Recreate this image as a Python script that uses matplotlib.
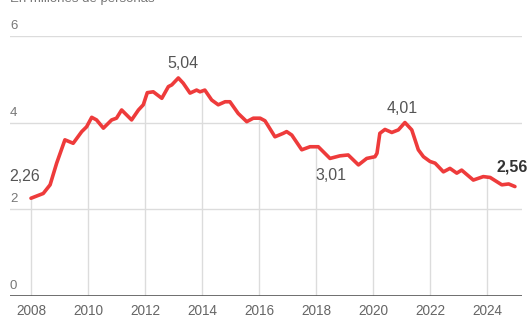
import numpy as np
import matplotlib
matplotlib.use("Agg")
import matplotlib.pyplot as plt

plt.rcParams['font.family'] = ['Liberation Sans', 'DejaVu Sans']

# millones de personas
years = [2008.0, 2008.43, 2008.67, 2008.9, 2009.19, 2009.48, 2009.78, 2009.95,
         2010.13, 2010.3, 2010.54, 2010.83, 2011.0, 2011.18, 2011.53, 2011.77,
         2011.94, 2012.08, 2012.29, 2012.59, 2012.82, 2012.94, 2013.17, 2013.34,
         2013.58, 2013.81, 2013.93, 2014.1, 2014.34, 2014.57, 2014.81, 2014.98,
         2015.27, 2015.57, 2015.8, 2016.04, 2016.21, 2016.56, 2016.85, 2016.97,
         2017.15, 2017.5, 2017.79, 2018.08, 2018.49, 2018.84, 2019.13, 2019.49,
         2019.78, 2020.07, 2020.14, 2020.24, 2020.42, 2020.66, 2020.89, 2021.12,
         2021.36, 2021.59, 2021.77, 2022.0, 2022.18, 2022.47, 2022.7, 2022.94,
         2023.11, 2023.52, 2023.87, 2024.11, 2024.52, 2024.76, 2024.98]
values = [2.26, 2.37, 2.57, 3.07, 3.61, 3.53, 3.80, 3.91,
          4.13, 4.07, 3.88, 4.07, 4.11, 4.30, 4.07, 4.30,
          4.42, 4.70, 4.72, 4.57, 4.84, 4.88, 5.04, 4.92,
          4.69, 4.76, 4.72, 4.76, 4.53, 4.42, 4.49, 4.49,
          4.22, 4.03, 4.11, 4.11, 4.05, 3.68, 3.76, 3.80,
          3.72, 3.38, 3.45, 3.45, 3.18, 3.24, 3.26, 3.03,
          3.18, 3.22, 3.30, 3.76, 3.85, 3.78, 3.84, 4.01,
          3.84, 3.38, 3.22, 3.11, 3.07, 2.87, 2.95, 2.84,
          2.91, 2.68, 2.76, 2.74, 2.57, 2.59, 2.53]

year_ticks = [2008, 2010, 2012, 2014, 2016, 2018, 2020, 2022, 2024]
y_ticks = [0, 2, 4, 6]

labels = ["2,26", "5,04", "3,01", "4,01", "2,56"]
label_idx = [0, 22, 44, 55, 70]

fig = plt.figure(figsize=(5.27, 3.18), dpi=100)
ax = fig.add_axes([10 / 527, 22 / 318, 512 / 527, 260 / 318])
ax.set_xlim(2008 - 21 / 28.5, 2008 + 512 / 28.5 - 21 / 28.5)
ax.set_ylim(0, 6.01)
ax.axis('off')

grid_c = '#dcdcdc'
for y in y_ticks[1:]:
    ax.axhline(y, color=grid_c, lw=1.0, zorder=1)
    ax.annotate(str(y), (0, y), xycoords=('axes fraction', 'data'),
                xytext=(0, 4), textcoords='offset pixels',
                ha='left', va='bottom', fontsize=9.5, color='#777777')
ax.axhline(0, color='#555555', lw=1.2, zorder=3)
ax.annotate("0", (0, 0), xycoords=('axes fraction', 'data'),
            xytext=(0, 4), textcoords='offset pixels',
            ha='left', va='bottom', fontsize=9.5, color='#777777')

# drop lines from the series down to the baseline
for yr in year_ticks:
    ax.plot([yr, yr], [0, np.interp(yr, years, values)], color=grid_c, lw=1.0, zorder=1)
    ax.annotate(str(yr), (yr, 0), xytext=(0, -8), textcoords='offset pixels',
                ha='center', va='top', fontsize=9.8, color='#666666')

ax.plot(years, values, color='#ee3b3b', lw=2.6, solid_capstyle='round',
        solid_joinstyle='round', zorder=4)

offsets = [(-22, 22), (5, 14), (1, -17), (-3, 14), (-18, 20)]
aligns = ['left', 'center', 'center', 'center', 'left']
for lab, i, off, ha in zip(labels, label_idx, offsets, aligns):
    bold = lab == labels[-1]
    ax.annotate(lab, (years[i], values[i]), xytext=off, textcoords='offset pixels',
                ha=ha, va='center', fontsize=11.5,
                color='#333333' if bold else '#555555',
                fontweight='bold' if bold else 'normal', zorder=5)

fig.text(10 / 527, 1 - 2 / 318, "En millones de personas", ha='left', va='baseline',
         fontsize=9.5, color='#777777')

fig.savefig('out.png', dpi=100, facecolor='white')
